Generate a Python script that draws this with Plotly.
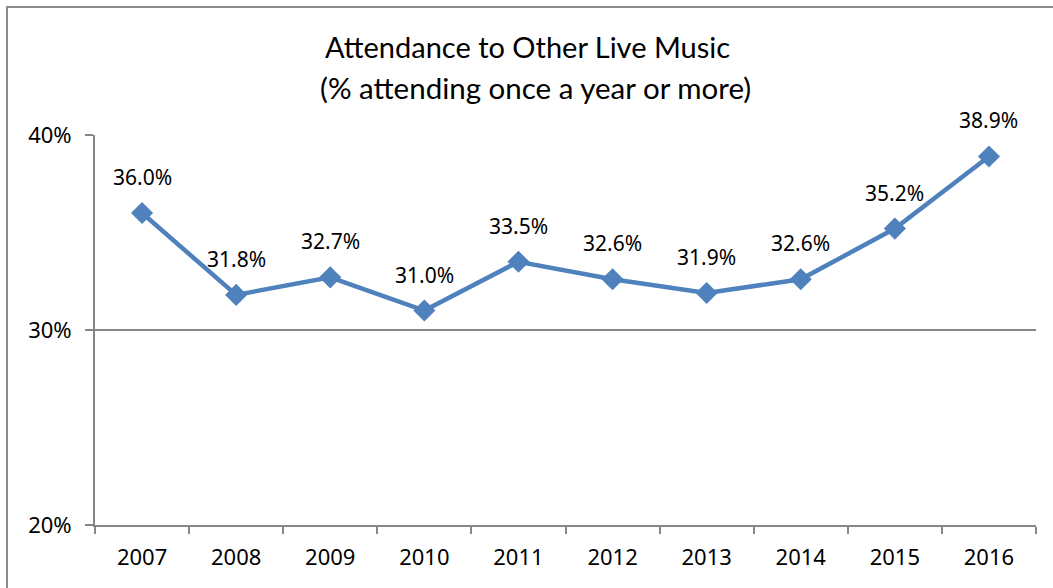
import plotly.graph_objects as go

years = ["2007", "2008", "2009", "2010", "2011", "2012", "2013", "2014", "2015", "2016"]
attendance = [36.0, 31.8, 32.7, 31.0, 33.5, 32.6, 31.9, 32.6, 35.2, 38.9]
y_ticks = [20, 30, 40]
y_tick_labels = ["20%", "30%", "40%"]

W, H = 1053, 588
L, R, T, B = 95, 17, 135, 63
PW, PH = W - L - R, H - T - B

LINE = "#4F81BD"
GRID = "#868686"
TEXT_FONT = "Noto Sans"

xpos = list(range(len(years)))

fig = go.Figure()
fig.add_trace(go.Scatter(
    x=xpos, y=attendance, mode="lines+markers",
    line=dict(color=LINE, width=4.5),
    marker=dict(symbol="diamond", size=17, color=LINE),
    hoverinfo="skip", showlegend=False,
))

# value labels above each point
for xi, v in zip(xpos, attendance):
    fig.add_annotation(
        x=xi, y=v, text=f"{v:.1f}%", showarrow=False,
        xanchor="center", yanchor="middle",
        yshift=36, font=dict(family=TEXT_FONT, size=21, color="#000000"),
    )

def px(xp):
    return (xp - L) / PW

def py(yp):
    return (H - B - yp) / PH

# chart frame
fig.add_shape(type="rect", xref="paper", yref="paper",
              x0=px(7), x1=px(1062), y0=py(597), y1=py(7),
              line=dict(color="#8C8C8C", width=2), layer="below")

fig.add_annotation(xref="paper", yref="paper", x=px(527), y=py(47),
                   xanchor="center", yanchor="middle",
                   text="Attendance to Other Live Music", showarrow=False,
                   font=dict(family="Lato", size=29, color="#000000"))
fig.add_annotation(xref="paper", yref="paper", x=px(535), y=py(87),
                   xanchor="center", yanchor="middle",
                   text="(% attending once a year or more)", showarrow=False,
                   font=dict(family="Lato", size=29.5, color="#000000"))

fig.update_layout(
    width=W, height=H,
    margin=dict(l=L, r=R, t=T, b=B),
    paper_bgcolor="white", plot_bgcolor="white",
    xaxis=dict(
        range=[-0.5, len(years) - 0.5],
        tickmode="array", tickvals=xpos, ticktext=years, ticks="",
        ticklabelstandoff=12,
        minor=dict(tickmode="linear", tick0=-0.5, dtick=1, ticks="outside",
                   ticklen=7, tickcolor=GRID, tickwidth=2, showgrid=False),
        showline=True, linecolor=GRID, linewidth=2,
        showgrid=False, zeroline=False,
        tickfont=dict(family=TEXT_FONT, size=22, color="#000000"),
        fixedrange=True,
    ),
    yaxis=dict(
        range=[20, 40], tickvals=y_ticks, ticktext=y_tick_labels,
        ticks="outside", ticklen=8, tickcolor=GRID, tickwidth=2,
        ticklabelstandoff=9,
        showline=True, linecolor=GRID, linewidth=2,
        showgrid=True, gridcolor=GRID, gridwidth=2, zeroline=False,
        tickfont=dict(family=TEXT_FONT, size=22, color="#000000"),
        fixedrange=True,
    ),
)

fig.write_html("out.html")
